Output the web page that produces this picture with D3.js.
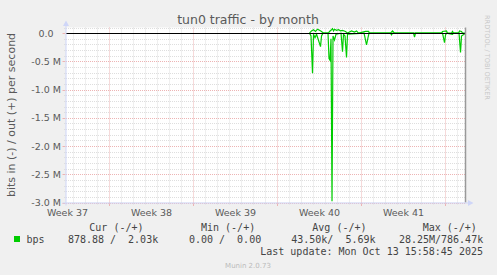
<!DOCTYPE html>
<html><head><meta charset="utf-8">
<script src="https://cdn.jsdelivr.net/npm/d3@7"></script>
<style>
html,body{margin:0;padding:0;background:#F0F0F0;}
svg{display:block;}
text{white-space:pre;}
</style></head>
<body>
<script>
// ---------- data ----------
const title = "tun0 traffic - by month";
const yAxisTitle = "bits in (-) / out (+) per second";
const endTime = "2025-10-13T15:58:45";
const spanHours = 800;
const yTicks = [0, -0.5e6, -1.0e6, -1.5e6, -2.0e6, -2.5e6, -3.0e6];
const yTickLabels = ["0.0", "-0.5 M", "-1.0 M", "-1.5 M", "-2.0 M", "-2.5 M", "-3.0 M"];
const weekLabels = ["Week 37", "Week 38", "Week 39", "Week 40", "Week 41"];
const weekCenters = ["2025-09-10T12:00", "2025-09-17T12:00", "2025-09-24T12:00", "2025-10-01T12:00", "2025-10-08T12:00"];

// in (bps, drawn negative)
const inTimes = ["2025-09-30T16:00","2025-09-30T19:00","2025-09-30T22:00","2025-10-01T00:00","2025-10-01T03:00",
 "2025-10-01T06:00","2025-10-01T09:00","2025-10-01T14:00","2025-10-01T16:00","2025-10-01T19:00",
 "2025-10-02T05:00","2025-10-02T07:00","2025-10-02T09:00","2025-10-02T11:00","2025-10-02T13:00",
 "2025-10-02T15:00","2025-10-02T18:00","2025-10-02T21:00","2025-10-03T07:00","2025-10-03T10:00",
 "2025-10-03T12:00","2025-10-03T15:00","2025-10-03T18:00","2025-10-03T20:00","2025-10-05T05:00",
 "2025-10-05T07:00","2025-10-05T10:00","2025-10-05T13:00","2025-10-05T15:00","2025-10-07T10:00",
 "2025-10-07T12:00","2025-10-07T14:00","2025-10-09T08:00","2025-10-09T10:00","2025-10-09T12:00",
 "2025-10-11T18:00","2025-10-11T22:00","2025-10-12T00:00","2025-10-12T02:00","2025-10-12T14:00",
 "2025-10-12T16:00","2025-10-13T03:00","2025-10-13T06:00","2025-10-13T08:00","2025-10-13T15:58"];
const inValues = [0, 50e3, 710e3, 20e3, 80e3,
 20e3, 100e3, 240e3, 50e3, 0,
 0, 450e3, 480e3, 100e3, 2980e3,
 50e3, 120e3, 20e3, 0, 330e3,
 20e3, 50e3, 430e3, 20e3, 0,
 80e3, 210e3, 80e3, 0, 0,
 30e3, 0, 0, 70e3, 0,
 0, 170e3, 30e3, 0, 20e3,
 0, 0, 340e3, 50e3, 879];

// out (bps, drawn positive)
const outTimes = ["2025-09-30T16:00","2025-09-30T20:00","2025-10-01T00:00","2025-10-01T04:00","2025-10-01T08:00",
 "2025-10-01T12:00","2025-10-01T16:00","2025-10-01T20:00","2025-10-02T06:00","2025-10-02T08:00",
 "2025-10-02T12:00","2025-10-02T14:00","2025-10-02T16:00","2025-10-02T18:00","2025-10-02T22:00",
 "2025-10-03T02:00","2025-10-03T06:00","2025-10-03T10:00","2025-10-03T16:00","2025-10-03T20:00",
 "2025-10-04T00:00","2025-10-04T04:00","2025-10-04T10:00","2025-10-04T14:00","2025-10-04T18:00",
 "2025-10-05T08:00","2025-10-05T14:00","2025-10-05T16:00","2025-10-07T10:00","2025-10-07T14:00",
 "2025-10-07T18:00","2025-10-11T16:00","2025-10-11T18:00","2025-10-12T02:00","2025-10-12T04:00",
 "2025-10-12T12:00","2025-10-12T14:00","2025-10-12T16:00","2025-10-13T02:00","2025-10-13T04:00",
 "2025-10-13T08:00","2025-10-13T10:00","2025-10-13T15:58"];
const outValues = [0, 40e3, 60e3, 30e3, 70e3,
 50e3, 30e3, 0, 0, 30e3,
 60e3, 80e3, 40e3, 70e3, 50e3,
 60e3, 40e3, 50e3, 30e3, 0,
 20e3, 40e3, 20e3, 40e3, 0,
 30e3, 30e3, 0, 0, 40e3,
 0, 0, 30e3, 40e3, 0,
 0, 30e3, 0, 0, 40e3,
 30e3, 0, 2030];

const legendHeaders = ["Cur (-/+)", "Min (-/+)", "Avg (-/+)", "Max (-/+)"];
const legendName = "bps";
const legendValues = ["878.88 /  2.03k", "0.00 /  0.00", "43.50k/  5.69k", "28.25M/786.47k"];
const lastUpdate = "Last update: Mon Oct 13 15:58:45 2025";
const footer = "Munin 2.0.73";
const sideText = "RRDTOOL / TOBI OETIKER";
const seriesColor = "#00CC00";

// ---------- drawing ----------
const W = 497, H = 275;
const svg = d3.select("body").append("svg").attr("width", W).attr("height", H);
svg.append("rect").attr("width", W).attr("height", H).attr("fill", "#F0F0F0");

const parse = s => new Date(s + (s.length === 16 ? ":00" : "") + "Z");
const tEnd = parse(endTime);
const tStart = new Date(tEnd.getTime() - spanHours * 3600e3);

const X0 = 65.5, X1 = 465.5, YT = 27.5, YB = 202.5;
const x = d3.scaleUtc().domain([tStart, tEnd]).range([X0, X1]);
const y = d3.scaleLinear().domain([-3.0e6, 0.1e6]).range([YB, YT]);

svg.append("rect").attr("x", X0 + 0.5).attr("y", YT).attr("width", X1 - X0).attr("height", YB - YT).attr("fill", "#FFFFFF");

const gridMinor = "#DEDEDE", gridMajor = "#EDB4B4";
const grid = svg.append("g");
// horizontal minor grid every 0.1M
const hMinor = d3.range(1, -31, -1).map(k => k * 1e5);
hMinor.forEach(v => {
  const major = Math.abs(Math.round(v / 1e5)) % 5 === 0;
  const yy = Math.round(y(v)) + 0.5;
  grid.append("line").attr("x1", X0 + 0.5).attr("x2", X1).attr("y1", yy).attr("y2", yy)
    .attr("stroke", major ? gridMajor : gridMinor).attr("stroke-width", 1).attr("stroke-dasharray", "1,1");
  grid.append("line").attr("x1", X0 - (major ? 3 : 1.5)).attr("x2", X0).attr("y1", yy).attr("y2", yy)
    .attr("stroke", major ? gridMajor : gridMinor).attr("stroke-width", 1);
});
// vertical day grid and week grid
const days = d3.utcDay.range(d3.utcDay.ceil(tStart), tEnd);
days.forEach(d => {
  const major = d.getUTCDay() === 0;
  const xx = Math.round(x(d) - 0.5) + 0.5;
  grid.append("line").attr("x1", xx).attr("x2", xx).attr("y1", YT).attr("y2", YB)
    .attr("stroke", major ? gridMajor : gridMinor).attr("stroke-width", 1).attr("stroke-dasharray", "1,1");
  grid.append("line").attr("x1", xx).attr("x2", xx).attr("y1", YB).attr("y2", YB + (major ? 3.5 : 2))
    .attr("stroke", major ? gridMajor : gridMinor).attr("stroke-width", 1);
});

// series
svg.append("clipPath").attr("id", "clip").append("rect")
  .attr("x", X0).attr("y", YT).attr("width", X1 - X0).attr("height", YB - YT + 1);
const inData = inTimes.map((t, i) => ({t: parse(t), v: -inValues[i]}));
const outData = outTimes.map((t, i) => ({t: parse(t), v: outValues[i]}));
const line = d3.line().x(d => x(d.t)).y(d => y(d.v));
const gs = svg.append("g").attr("clip-path", "url(#clip)");
gs.append("path").attr("d", line(outData)).attr("fill", "none").attr("stroke", seriesColor).attr("stroke-width", 1.2);
gs.append("path").attr("d", line(inData)).attr("fill", "none").attr("stroke", seriesColor).attr("stroke-width", 1.2);

// zero line
const y0 = Math.round(y(0)) + 0.5;
svg.append("line").attr("x1", X0 + 0.5).attr("x2", X1).attr("y1", y0).attr("y2", y0).attr("stroke", "#000").attr("stroke-width", 1);

// right edge line
svg.append("line").attr("x1", X1).attr("x2", X1).attr("y1", YT).attr("y2", YB).attr("stroke", "#999").attr("stroke-width", 1.5);

// axes
const axisColor = "#CFD6F8";
svg.append("line").attr("x1", X0 + 0.5).attr("x2", X0 + 0.5).attr("y1", YB + 3).attr("y2", YT - 4).attr("stroke", axisColor);
svg.append("path").attr("d", `M${X0+0.5},${YT-7} L${X0-2.5},${YT-1.5} L${X0+3.5},${YT-1.5} Z`).attr("fill", axisColor);
svg.append("line").attr("x1", X0 - 3).attr("x2", X1 + 4).attr("y1", YB + 0.5).attr("y2", YB + 0.5).attr("stroke", axisColor);
svg.append("path").attr("d", `M${X1+8},${YB+0.5} L${X1+2.5},${YB-2.5} L${X1+2.5},${YB+3.5} Z`).attr("fill", axisColor);

const fontSans = "'DejaVu Sans', sans-serif";
const fontMono = "'DejaVu Sans Mono', monospace";
const textColor = "#5a5a5a";
const legendColor = "#444";

// title
svg.append("text").attr("x", 248).attr("y", 24).attr("text-anchor", "middle")
  .attr("font-family", fontSans).attr("font-size", 12.5).attr("fill", textColor).text(title);

// y tick labels
yTicks.forEach((v, i) => {
  svg.append("text").attr("x", v === 0 ? 53.5 : 61).attr("y", y(v) + 3.5).attr("text-anchor", "end")
    .attr("font-family", fontSans).attr("font-size", 9.5).attr("fill", textColor).text(yTickLabels[i]);
});
// week labels
weekLabels.forEach((l, i) => {
  svg.append("text").attr("x", x(parse(weekCenters[i]))).attr("y", 216).attr("text-anchor", "middle")
    .attr("font-family", fontSans).attr("font-size", 9.5).attr("fill", textColor).text(l);
});
// y axis title
svg.append("text").attr("transform", "translate(14.5,115) rotate(-90)").attr("text-anchor", "middle")
  .attr("font-family", fontSans).attr("font-size", 11).attr("fill", textColor).text(yAxisTitle);
// side text
svg.append("text").attr("transform", "translate(485,15) rotate(90)").attr("text-anchor", "start")
  .attr("font-family", fontSans).attr("font-size", 6.6).attr("fill", "#C8C8C8").text(sideText);

// legend
const headerX = [89.3, 201, 312.3, 422.7];
legendHeaders.forEach((h, i) => {
  svg.append("text").attr("x", headerX[i]).attr("y", 231).attr("font-family", fontMono).attr("font-size", 10)
    .attr("fill", legendColor).text(h);
});
svg.append("rect").attr("x", 14).attr("y", 236).attr("width", 6).attr("height", 6).attr("fill", seriesColor);
svg.append("text").attr("x", 26.5).attr("y", 243).attr("font-family", fontMono).attr("font-size", 10)
  .attr("fill", legendColor).text(legendName);
const valEnd = [157.7, 260.7, 375, 482.7];
legendValues.forEach((s, i) => {
  svg.append("text").attr("x", valEnd[i] + 0.5).attr("y", 243).attr("text-anchor", "end").attr("font-family", fontMono)
    .attr("font-size", 10).attr("fill", legendColor).text(s);
});
svg.append("text").attr("x", 483).attr("y", 255).attr("text-anchor", "end").attr("font-family", fontMono)
  .attr("font-size", 10).attr("fill", legendColor).text(lastUpdate);
svg.append("text").attr("x", 248).attr("y", 267.5).attr("text-anchor", "middle").attr("font-family", fontSans)
  .attr("font-size", 7).attr("fill", "#BBBBBB").text(footer);
</script>
</body></html>
